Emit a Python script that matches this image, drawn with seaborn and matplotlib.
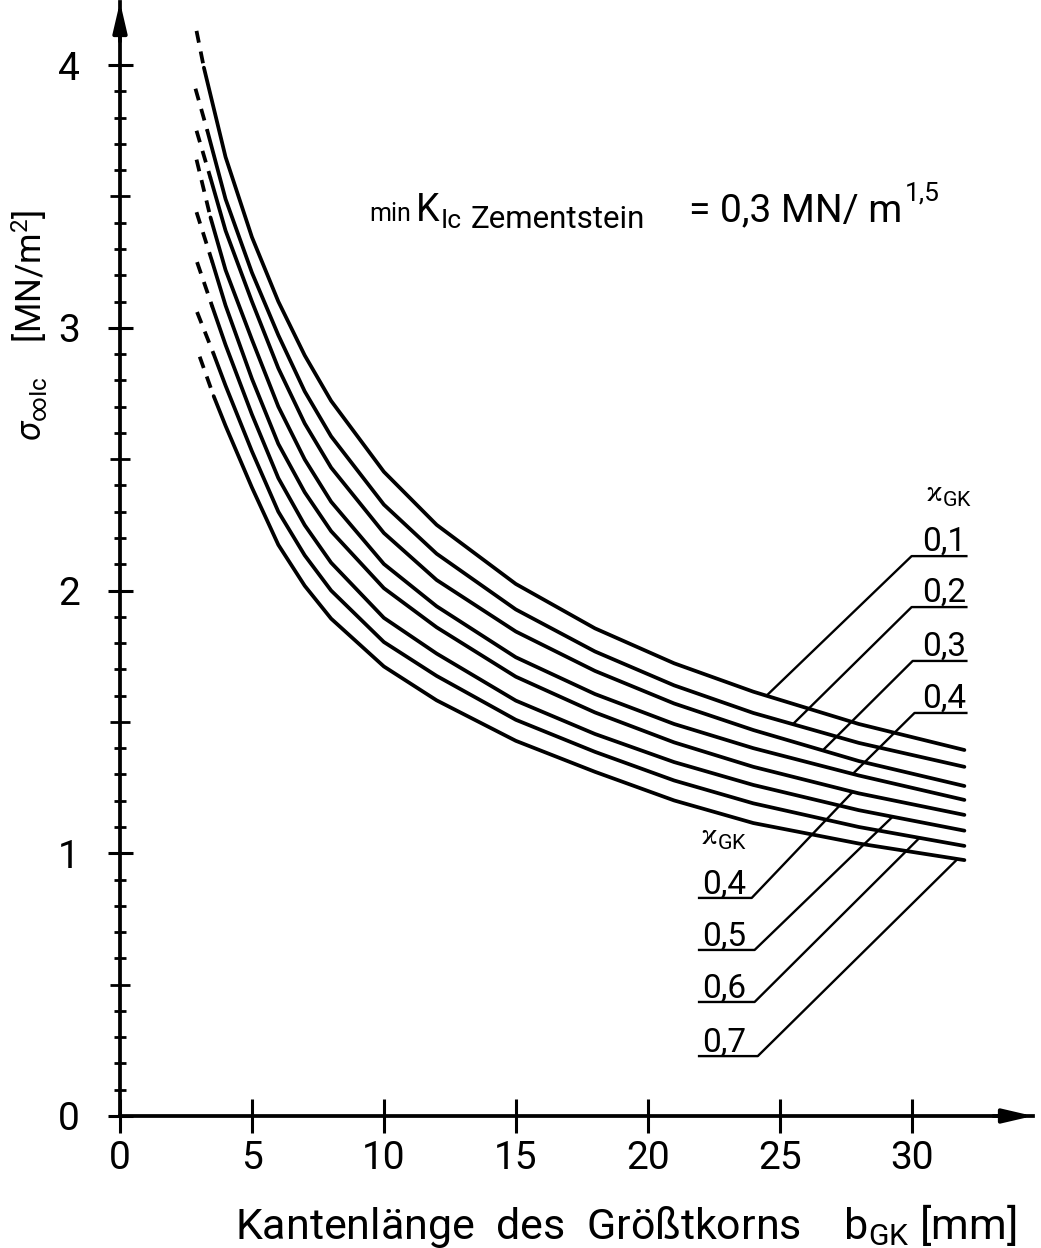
import numpy as np
import pandas as pd
import matplotlib
matplotlib.use("Agg")
import matplotlib.pyplot as plt
from matplotlib.ticker import FixedLocator
import seaborn as sns

# ---- data: sigma_inf,Ic [MN/m^2] over edge length of largest grain b_GK [mm]
b_grid = [4, 5, 6, 7, 8, 10, 12, 15, 18, 21, 24, 28, 32]

sigma_k01 = [3.65, 3.345, 3.10, 2.895, 2.722, 2.452, 2.25, 2.025, 1.856, 1.723, 1.615, 1.492, 1.393]
sigma_k02 = [3.49, 3.21, 2.972, 2.758, 2.587, 2.327, 2.14, 1.928, 1.768, 1.639, 1.534, 1.420, 1.329]
sigma_k03 = [3.37, 3.10, 2.846, 2.636, 2.468, 2.219, 2.04, 1.844, 1.694, 1.570, 1.469, 1.351, 1.256]
sigma_k04 = [3.22, 2.955, 2.70, 2.499, 2.338, 2.101, 1.94, 1.746, 1.606, 1.492, 1.40, 1.296, 1.203]
sigma_k05 = [3.085, 2.806, 2.558, 2.374, 2.226, 2.009, 1.86, 1.672, 1.536, 1.422, 1.329, 1.228, 1.146]
sigma_k06 = [2.935, 2.67, 2.428, 2.249, 2.106, 1.896, 1.76, 1.581, 1.454, 1.347, 1.26, 1.164, 1.086]
sigma_k07 = [2.78, 2.53, 2.30, 2.134, 2.0, 1.804, 1.675, 1.508, 1.386, 1.277, 1.19, 1.100, 1.028]
sigma_k08 = [2.627, 2.392, 2.174, 2.018, 1.893, 1.711, 1.582, 1.428, 1.310, 1.201, 1.115, 1.037, 0.974]

# start of the solid part of each curve
b_solid_start = [3.18, 3.31, 3.43, 3.43, 3.5, 3.5, 3.55, 3.55]
sigma_solid_start = [3.99, 3.75, 3.57, 3.42, 3.25, 3.08, 2.90, 2.74]
# start of the dashed extrapolation
b_dash_start = [2.9, 2.86, 2.9, 2.9, 2.9, 2.92, 2.92, 3.02]
sigma_dash_start = [4.13, 3.91, 3.75, 3.64, 3.44, 3.25, 3.06, 2.89]

kappa_upper = ["0,1", "0,2", "0,3", "0,4"]
kappa_lower = ["0,4", "0,5", "0,6", "0,7"]

x_ticks = [0, 5, 10, 15, 20, 25, 30]
y_ticks = [0, 1, 2, 3, 4]

curves = [sigma_k01, sigma_k02, sigma_k03, sigma_k04,
          sigma_k05, sigma_k06, sigma_k07, sigma_k08]

rows_solid, rows_dash = [], []
for i, vals in enumerate(curves):
    rows_solid.append((i, b_solid_start[i], sigma_solid_start[i]))
    for b, s in zip(b_grid, vals):
        rows_solid.append((i, b, s))
    rows_dash.append((i, b_dash_start[i], sigma_dash_start[i]))
    rows_dash.append((i, b_solid_start[i], sigma_solid_start[i]))
df_solid = pd.DataFrame(rows_solid, columns=["curve", "b", "sigma"])
df_dash = pd.DataFrame(rows_dash, columns=["curve", "b", "sigma"])

# ---- style
sns.set_theme(style="white")
plt.rcParams["font.family"] = ["Roboto", "DejaVu Sans"]
plt.rcParams["mathtext.fontset"] = "custom"
plt.rcParams["mathtext.rm"] = "Roboto"
plt.rcParams["mathtext.it"] = "Roboto:italic"
plt.rcParams["mathtext.bf"] = "Roboto:bold"
plt.rcParams["mathtext.sf"] = "Roboto"
plt.rcParams["mathtext.fallback"] = "stixsans"
for key in ("text.color", "axes.labelcolor", "xtick.color", "ytick.color"):
    plt.rcParams[key] = "black"

fig = plt.figure(figsize=(10.41, 12.48), dpi=100)
fig.patch.set_facecolor("white")
XMAX, YMAX = 34.6, 4.24
ax = fig.add_axes([120 / 1041, 132 / 1248, 913 / 1041, 1114 / 1248])
ax.set_facecolor("white")

LW = 2.7
sns.lineplot(data=df_solid, x="b", y="sigma", units="curve", estimator=None,
             sort=False, color="black", lw=LW, ax=ax, legend=False)
sns.lineplot(data=df_dash, x="b", y="sigma", units="curve", estimator=None,
             sort=False, color="black", lw=LW, ax=ax, legend=False,
             linestyle=(0, (3.2, 2.4)))

ax.set_xlim(0, XMAX)
ax.set_ylim(0, YMAX)
sns.despine(ax=ax)
for side in ("left", "bottom"):
    ax.spines[side].set_linewidth(LW)
    ax.spines[side].set_color("black")

# arrow heads on both axes
arrow = dict(arrowstyle="-|>,head_length=1.5,head_width=0.35", color="black",
             lw=LW, shrinkA=0, shrinkB=0)
ax.annotate("", xy=(0, YMAX), xytext=(0, YMAX - 0.15), arrowprops=arrow,
            annotation_clip=False)
ax.annotate("", xy=(XMAX, 0), xytext=(XMAX - 1.5, 0), arrowprops=arrow,
            annotation_clip=False)

# ticks
ax.set_xticks(x_ticks)
ax.set_xticklabels([str(t) for t in x_ticks])
ax.set_yticks(y_ticks)
ax.set_yticklabels([str(t) for t in y_ticks])
ax.yaxis.set_minor_locator(FixedLocator(
    [k / 10 for k in range(1, 40) if k % 5 != 0]))
ax.tick_params(axis="x", which="major", direction="inout", length=24, width=2.2,
               pad=5, labelsize=28, bottom=True)
ax.tick_params(axis="y", which="major", direction="inout", length=18, width=2.2,
               pad=20, labelsize=28, left=True)
ax.tick_params(axis="y", which="minor", direction="inout", length=8, width=2.0,
               left=True)
half = ax.secondary_yaxis("left")
half.set_yticks([0.5, 1.5, 2.5, 3.5])
half.tick_params(direction="inout", length=14, width=2.0, labelleft=False)
half.spines["left"].set_visible(False)

# axis titles
ax.set_xlabel(r"Kantenlänge  des  Größtkorns    $\mathrm{b}_{\mathrm{GK}}$ [mm]",
              fontsize=31)
ax.xaxis.set_label_coords(0.554, -0.077)
ax.set_ylabel(r"$\sigma_{\infty\mathrm{Ic}}$    [MN/m$^2$]", fontsize=25)
ax.yaxis.set_label_coords(-0.078, 0.71)

# heading: min K_Ic Zementstein = 0,3 MN/m^1,5
ax.text(9.45, 3.406, "min", fontsize=18, ha="left", va="baseline")
ax.text(11.2, 3.406, "K", fontsize=27, ha="left", va="baseline")
ax.text(12.15, 3.380, "Ic", fontsize=19, ha="left", va="baseline")
ax.text(13.3, 3.380, "Zementstein", fontsize=22.5, ha="left", va="baseline")
ax.text(21.55, 3.406, "= 0,3 MN/ m", fontsize=28, ha="left", va="baseline")
ax.text(29.73, 3.486, "1,5", fontsize=19, ha="left", va="baseline")

# curve labels with leader lines
THIN = 1.7
upper_anchor_b = [30.0, 30.0, 30.04, 30.11]
upper_anchor_s = [2.131, 1.937, 1.732, 1.534]
upper_contact_b = [24.5, 25.5, 26.63, 27.77]
lower_anchor_b = [23.94, 24.05, 24.05, 24.17]
lower_anchor_s = [0.830, 0.632, 0.434, 0.228]
lower_contact_b = [27.77, 29.28, 30.3, 31.74]


def curve_value(idx, b):
    xs = [b_solid_start[idx]] + b_grid
    ys = [sigma_solid_start[idx]] + curves[idx]
    return float(np.interp(b, xs, ys))


for j in range(4):
    xa, ya = upper_anchor_b[j], upper_anchor_s[j]
    xc = upper_contact_b[j]
    ax.plot([32.12, xa, xc], [ya, ya, curve_value(j, xc)], color="black",
            lw=THIN, solid_capstyle="butt")
    ax.text(30.38, ya + 0.022, kappa_upper[j], fontsize=24, ha="left",
            va="baseline")

for j in range(4):
    xa, ya = lower_anchor_b[j], lower_anchor_s[j]
    xc = lower_contact_b[j]
    ax.plot([21.9, xa, xc], [ya, ya, curve_value(j + 4, xc)], color="black",
            lw=THIN, solid_capstyle="butt")
    ax.text(22.05, ya + 0.018, kappa_lower[j], fontsize=24, ha="left",
            va="baseline")

ax.text(30.5, 2.337, r"$\varkappa_{\mathrm{GK}}$", fontsize=22, ha="left",
        va="baseline")
ax.text(21.97, 1.031, r"$\varkappa_{\mathrm{GK}}$", fontsize=22, ha="left",
        va="baseline")

fig.savefig("out.png", dpi=100, facecolor="white")
